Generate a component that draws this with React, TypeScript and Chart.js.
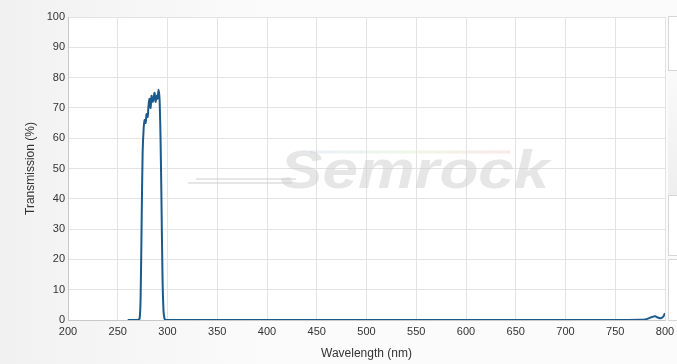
import React, { useEffect, useRef } from "react";
import { Chart, registerables } from "chart.js";

Chart.register(...registerables);

const wavelengths = [260, 265, 270, 272, 273, 274, 275, 276, 277, 278, 279, 280, 281, 282, 283, 284, 285, 286, 287, 288, 289, 290, 291, 292, 293, 294, 295, 296, 297, 298, 300, 350, 400, 450, 500, 550, 600, 650, 700, 750, 775, 780, 784, 787, 790, 793, 796, 798, 800];
const transmission = [0, 0, 0, 0.5, 8, 32, 55, 63, 66, 65, 68, 67, 71, 73, 70, 74, 72, 73, 75, 72, 74, 73, 76, 73, 60, 38, 14, 3, 0.5, 0, 0, 0, 0, 0, 0, 0, 0, 0, 0, 0, 0.1, 0.2, 0.6, 1.0, 1.2, 0.8, 0.6, 1.0, 2.2];
const xTicks = [200, 250, 300, 350, 400, 450, 500, 550, 600, 650, 700, 750, 800];
const yTicks = [0, 10, 20, 30, 40, 50, 60, 70, 80, 90, 100];
const xTitle = "Wavelength (nm)";
const yTitle = "Transmission (%)";
const watermark = "Semrock";

export default function App() {
  const ref = useRef<HTMLCanvasElement>(null);
  useEffect(() => {
    document.body.style.margin = "0";
    const bgPlugin = {
      id: "plotbg",
      beforeDraw(chart: any) {
        const { ctx, chartArea } = chart;
        ctx.save();
        ctx.fillStyle = "#ffffff";
        ctx.fillRect(chartArea.left, chartArea.top, chartArea.right - chartArea.left, chartArea.bottom - chartArea.top);
        ctx.restore();
      },
      beforeDatasetsDraw(chart: any) {
        const { ctx } = chart;
        ctx.save();
        const grad = ctx.createLinearGradient(300, 0, 520, 0);
        grad.addColorStop(0, "rgba(200,210,240,0.35)");
        grad.addColorStop(0.5, "rgba(220,240,200,0.45)");
        grad.addColorStop(1, "rgba(245,200,200,0.45)");
        ctx.strokeStyle = grad;
        ctx.lineWidth = 3;
        ctx.beginPath();
        ctx.moveTo(310, 152);
        ctx.lineTo(510, 152);
        ctx.stroke();
        ctx.translate(280, 188);
        ctx.scale(1.18, 1);
        ctx.font = "italic bold 54px 'Liberation Sans', Arial, sans-serif";
        ctx.fillStyle = "rgba(205,205,205,0.5)";
        ctx.textBaseline = "alphabetic";
        ctx.fillText(watermark, 0, 0);
        ctx.restore();
        ctx.save();
        ctx.strokeStyle = "rgba(205,205,205,0.5)";
        ctx.lineWidth = 2;
        ctx.beginPath();
        ctx.moveTo(188, 183);
        ctx.lineTo(292, 183);
        ctx.moveTo(196, 179);
        ctx.lineTo(296, 179);
        ctx.stroke();
        ctx.restore();
      },
    };
    const chart = new Chart(ref.current!, {
      type: "line",
      data: {
        datasets: [
          {
            data: wavelengths.map((w, i) => ({ x: w, y: transmission[i] })),
            borderColor: "#1b5a8c",
            borderWidth: 2,
            pointRadius: 0,
            tension: 0.3,
            fill: false,
          },
        ],
      },
      options: {
        animation: false,
        responsive: false,
        maintainAspectRatio: false,
        layout: { padding: { top: 17, right: 12, left: 0, bottom: 0 } },
        plugins: { legend: { display: false }, tooltip: { enabled: false } },
        scales: {
          x: {
            type: "linear",
            min: 200,
            max: 800,
            afterBuildTicks: (s: any) => {
              s.ticks = xTicks.map((v) => ({ value: v }));
            },
            afterFit: (s: any) => {
              s.height = 44;
              s.paddingRight = 0;
              s.paddingLeft = 0;
            },
            grid: { color: "#e3e3e3", lineWidth: 1, tickLength: 0, drawTicks: false },
            border: { color: "#c8c8c8" },
            ticks: { color: "#333", padding: 5, font: { family: "'Liberation Sans', Arial, sans-serif", size: 11 }, maxRotation: 0 },
            title: { display: true, text: xTitle, color: "#333", padding: { top: 0, bottom: 3 }, font: { family: "'Liberation Sans', Arial, sans-serif", size: 12 } },
          },
          y: {
            min: 0,
            max: 100,
            afterBuildTicks: (s: any) => {
              s.ticks = yTicks.map((v) => ({ value: v }));
            },
            afterFit: (s: any) => {
              s.width = 68;
              s.paddingTop = 0;
              s.paddingBottom = 0;
            },
            grid: { color: "#e3e3e3", lineWidth: 1, tickLength: 0, drawTicks: false },
            border: { color: "#c8c8c8" },
            ticks: { color: "#333", padding: 3, font: { family: "'Liberation Sans', Arial, sans-serif", size: 11 } },
            title: { display: true, text: yTitle, color: "#333", padding: { top: 23, bottom: 0 }, font: { family: "'Liberation Sans', Arial, sans-serif", size: 12 } },
          },
        },
      },
      plugins: [bgPlugin],
    });
    return () => chart.destroy();
  }, []);

  const box = (top: number, height: number) => (
    <div style={{ position: "absolute", left: 668, top, width: 20, height, border: "1px solid #d6d6d6", background: "#fff", boxSizing: "border-box" }} />
  );

  return (
    <div style={{ position: "fixed", left: 0, top: 0, width: 677, height: 364, overflow: "hidden", background: "linear-gradient(to right, #f1f1f1, #fbfbfb 40%, #fbfbfb)" }}>
      <div style={{ position: "absolute", left: 668, top: 70, width: 10, height: 125, background: "linear-gradient(to bottom, #fafafa, #eeeeee)" }} />
      {box(16, 55)}
      {box(195, 61)}
      {box(259, 62)}
      <canvas ref={ref} width={677} height={364} style={{ position: "absolute", left: 0, top: 0 }} />
    </div>
  );
}
